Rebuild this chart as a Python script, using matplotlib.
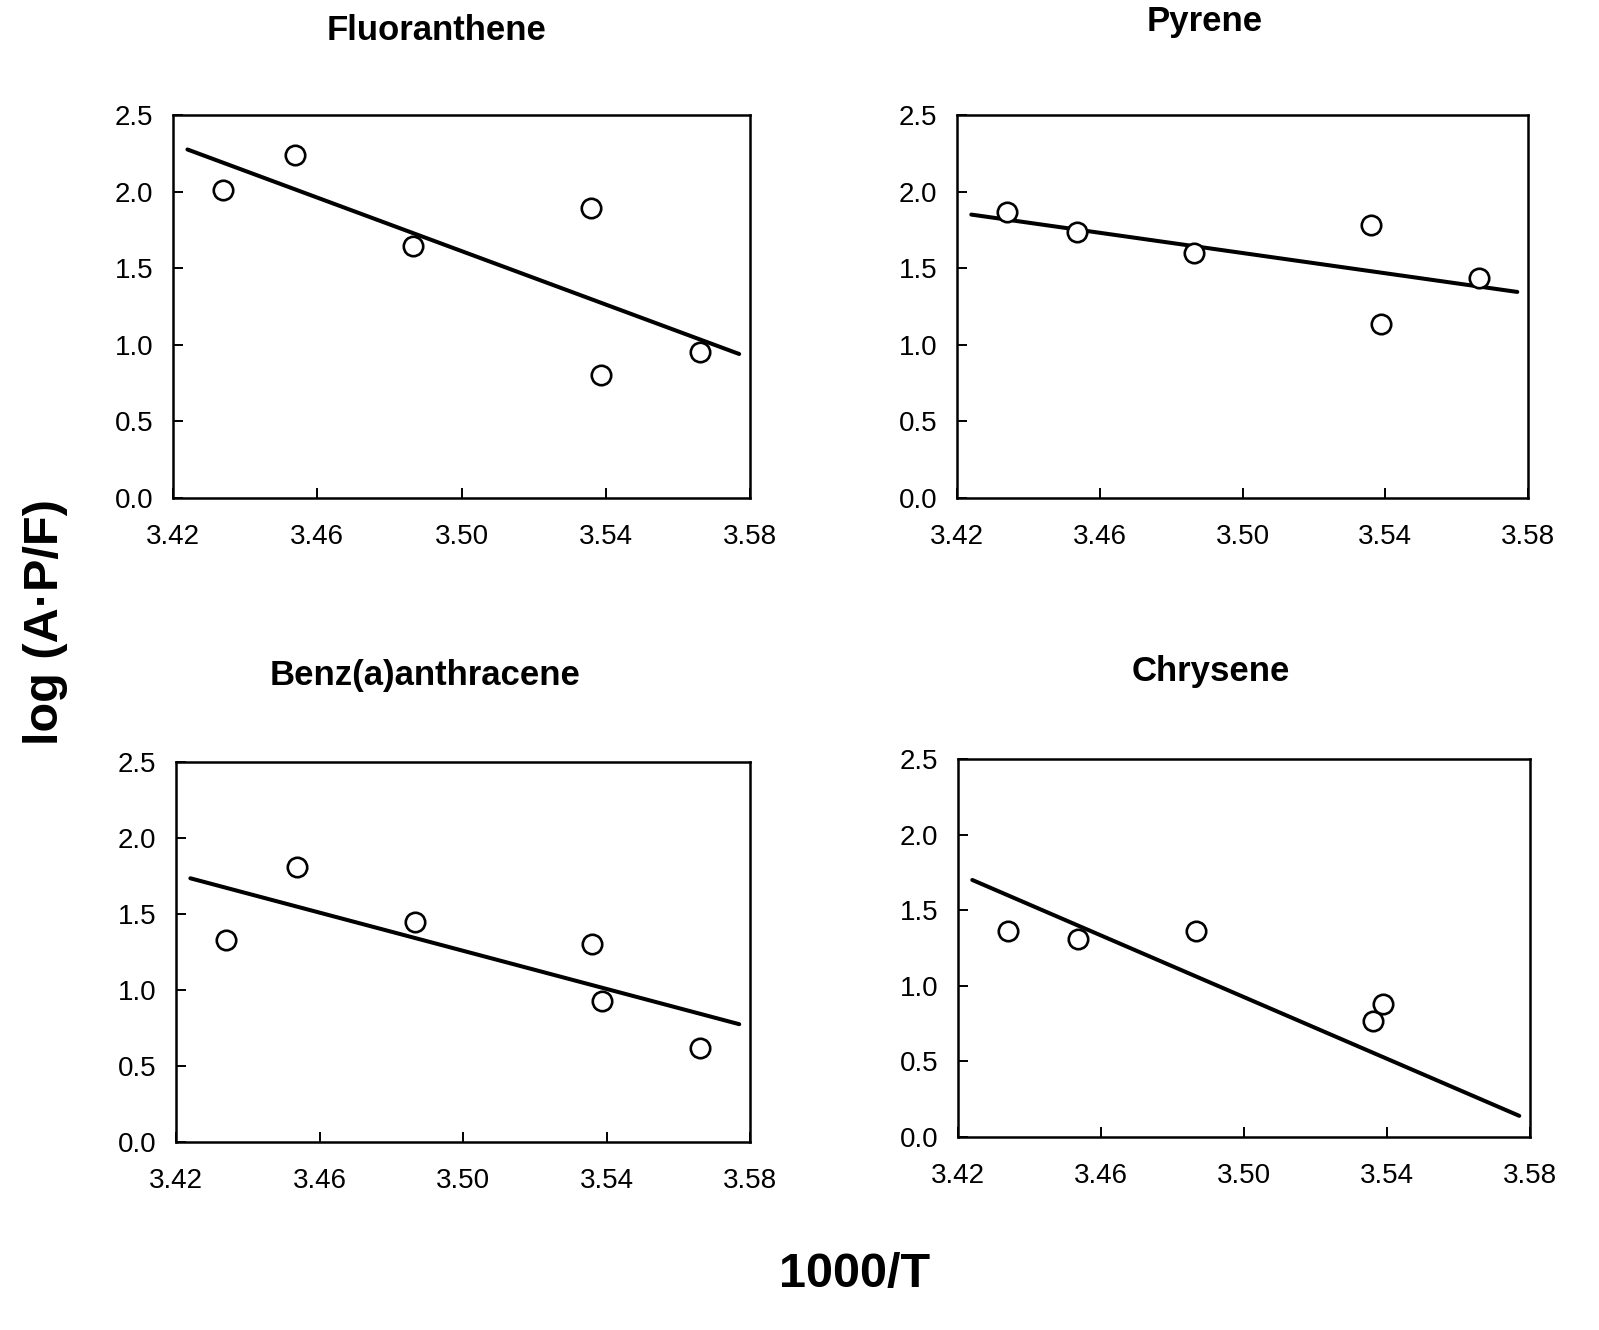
import matplotlib.pyplot as plt
import numpy as np

plt.rcParams["font.family"] = ["Liberation Sans", "DejaVu Sans"]

# 1000/T values shared by all compounds
inv_t = [3.4340, 3.4537, 3.4865, 3.5360, 3.5388, 3.5662]

compounds = ["Fluoranthene", "Pyrene", "Benz(a)anthracene", "Chrysene"]
log_apf = {
    "Fluoranthene": [2.01, 2.24, 1.645, 1.89, 0.80, 0.95],
    "Pyrene": [1.865, 1.735, 1.60, 1.785, 1.135, 1.435],
    "Benz(a)anthracene": [1.33, 1.81, 1.45, 1.30, 0.93, 0.62],
    "Chrysene": [1.36, 1.31, 1.36, 0.77, 0.88, np.nan],
}

# regression line end points
fit_x = [3.4240, 3.5770]
fit_y = {
    "Fluoranthene": [2.275, 0.94],
    "Pyrene": [1.85, 1.345],
    "Benz(a)anthracene": [1.735, 0.775],
    "Chrysene": [1.70, 0.14],
}

x_ticks = [3.42, 3.46, 3.50, 3.54, 3.58]
y_ticks = [0.0, 0.5, 1.0, 1.5, 2.0, 2.5]

W, H = 1599, 1330
fig = plt.figure(figsize=(W / 100, H / 100), dpi=100)

# axes boxes in pixels: left, right, top, bottom
boxes = [
    (173, 750, 115, 498),
    (957, 1528, 115, 498),
    (176, 750, 762, 1142),
    (958, 1530, 759, 1137),
]
title_pos = [(437, 30), (1205, 22), (425, 675), (1211, 671)]

for name, (l, r, t, b), (tx, ty) in zip(compounds, boxes, title_pos):
    ax = fig.add_axes([l / W, 1 - b / H, (r - l) / W, (b - t) / H])
    ax.plot(fit_x, fit_y[name], color="black", lw=2.9, solid_capstyle="round")
    ax.plot(inv_t, log_apf[name], "o", ms=14, mfc="white", mec="black", mew=1.9)
    ax.set_xlim(3.42, 3.58)
    ax.set_ylim(0, 2.5)
    ax.set_xticks(x_ticks)
    ax.set_xticklabels([f"{v:.2f}" for v in x_ticks])
    ax.set_yticks(y_ticks)
    ax.set_yticklabels([f"{v:.1f}" for v in y_ticks])
    ax.tick_params(axis="both", direction="in", length=7, width=1.4, labelsize=20)
    ax.tick_params(axis="x", pad=19)
    ax.tick_params(axis="y", pad=14)
    for s in ax.spines.values():
        s.set_linewidth(1.8)
    fig.text(tx / W, 1 - ty / H, name, ha="center", va="center",
             fontsize=25, fontweight="bold")

fig.text(45 / W, 1 - 622 / H, "log (A·P/F)", rotation=90, ha="center",
         va="center", fontsize=35, fontweight="bold")
fig.text(855 / W, 1 - 1275 / H, "1000/T", ha="center", va="center",
         fontsize=35, fontweight="bold")

fig.savefig("out.png", dpi=100)
